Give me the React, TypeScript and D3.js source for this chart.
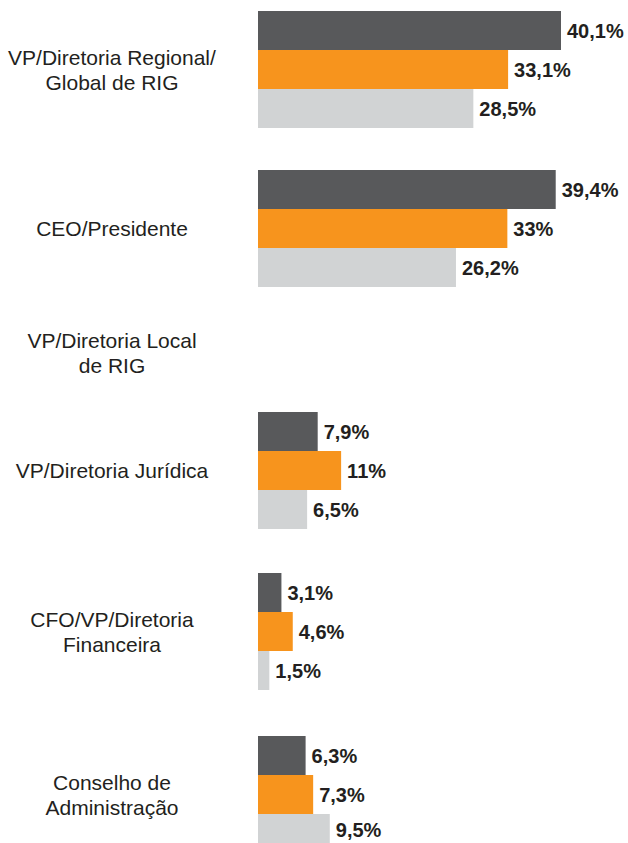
import React from "react";
import * as d3 from "d3";

const categories = [
  "VP/Diretoria Regional/\nGlobal de RIG",
  "CEO/Presidente",
  "VP/Diretoria Local\nde RIG",
  "VP/Diretoria Jurídica",
  "CFO/VP/Diretoria\nFinanceira",
  "Conselho de\nAdministração",
];
const seriesNames = ["s1", "s2", "s3"];
const series1: (number | null)[] = [40.1, 39.4, null, 7.9, 3.1, 6.3];
const series2: (number | null)[] = [33.1, 33, null, 11, 4.6, 7.3];
const series3: (number | null)[] = [28.5, 26.2, null, 6.5, 1.5, 9.5];
const seriesColors = ["#58595b", "#f7941d", "#d1d3d4"];
const groupCenters = [69.5, 228.5, 353, 470.5, 631.5, 794.5];

const W = 628;
const H = 843;
const X0 = 258;

export default function App() {
  const allSeries = [series1, series2, series3];
  const x = d3.scaleLinear().domain([0, 40.1]).range([0, 303]);
  const yGroup = d3.scaleOrdinal<string, number>().domain(categories).range(groupCenters);
  const yInner = d3.scaleBand<string>().domain(seriesNames).range([-58.5, 58.5]).padding(0);
  const color = d3.scaleOrdinal<string, string>().domain(seriesNames).range(seriesColors);
  const fmt = (v: number) => String(v).replace(".", ",") + "%";
  const lineH = 25;

  return (
    <svg
      width={W}
      height={H}
      style={{ position: "absolute", left: 0, top: 0, background: "#fff" }}
      fontFamily="'Liberation Sans', Arial, sans-serif"
    >
      {categories.map((cat, ci) => {
        const cy = yGroup(cat);
        const lines = cat.split("\n");
        return (
          <g key={cat}>
            {lines.map((ln, li) => (
              <text
                key={li}
                x={112}
                y={cy + 7.5 + (li - (lines.length - 1) / 2) * lineH}
                textAnchor="middle"
                fontSize={21}
                fill="#231f20"
              >
                {ln}
              </text>
            ))}
            {seriesNames.map((s, si) => {
              const v = allSeries[si][ci];
              if (v == null) return null;
              const y = cy + (yInner(s) as number);
              const h = yInner.bandwidth();
              return (
                <g key={s}>
                  <rect x={X0} y={y} width={x(v)} height={h} fill={color(s)} />
                  <text
                    x={X0 + x(v) + 6}
                    y={Math.min(y + h / 2 + 7.5, H - 6)}
                    fontSize={20}
                    fontWeight="bold"
                    fill="#231f20"
                  >
                    {fmt(v)}
                  </text>
                </g>
              );
            })}
          </g>
        );
      })}
    </svg>
  );
}
